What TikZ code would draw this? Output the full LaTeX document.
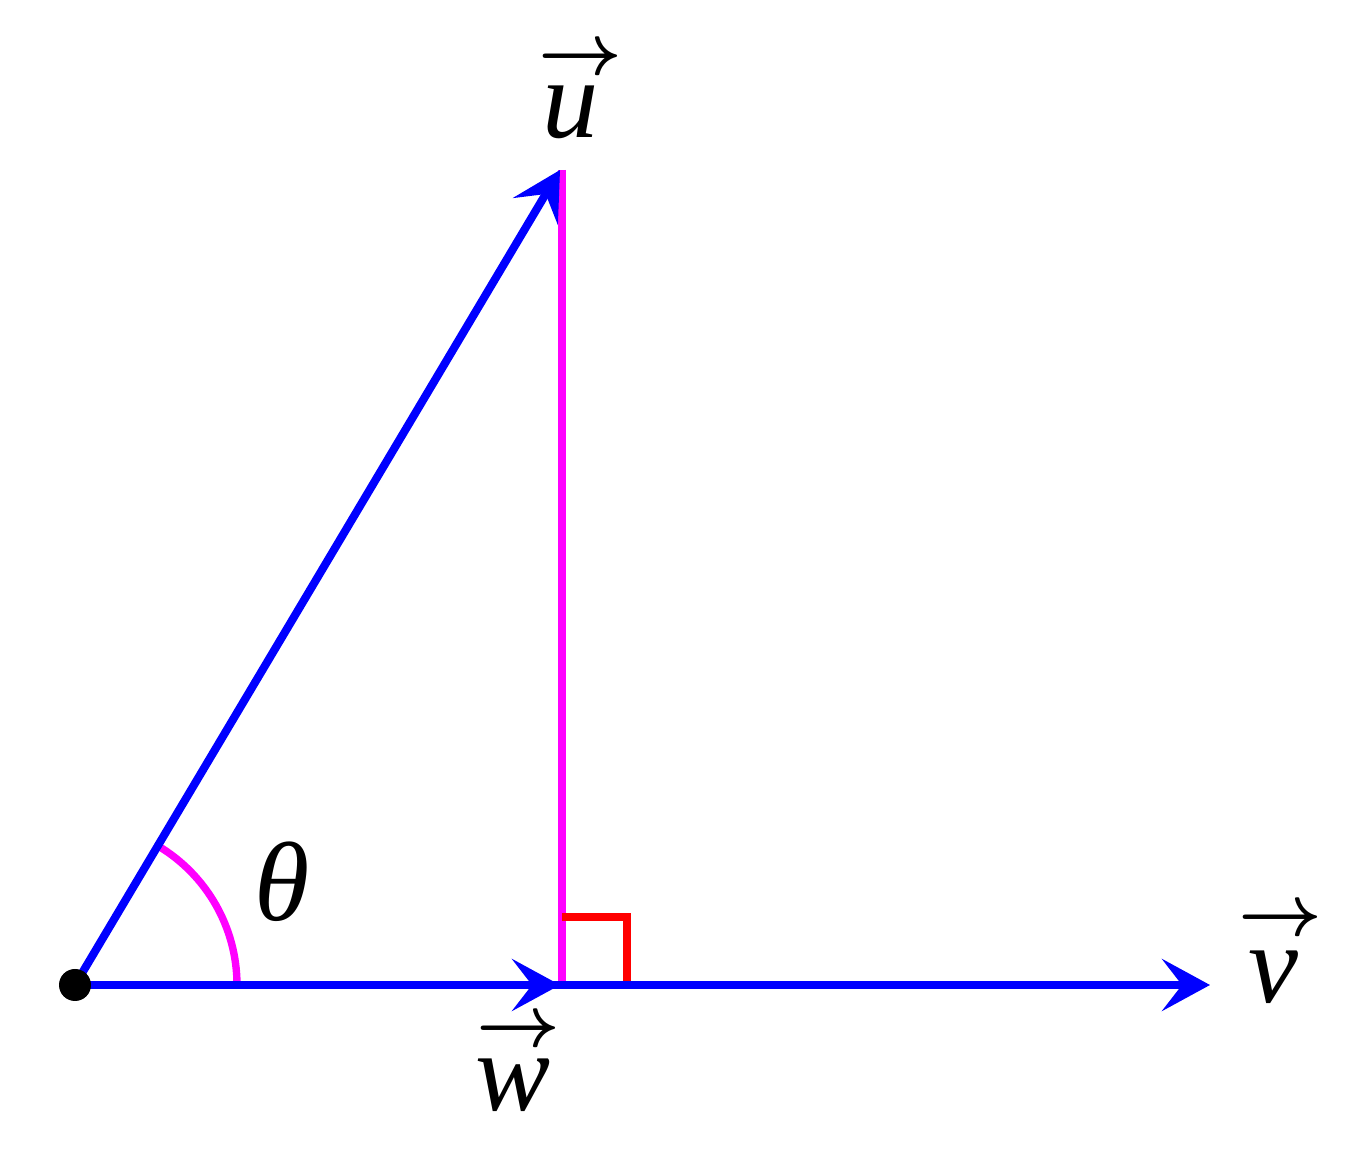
\documentclass[tikz,border=0pt]{standalone}
\usepackage{amsmath}
\usepackage{fontspec}
\setmainfont{Liberation Serif}
\usepackage{tikz}
\usetikzlibrary{positioning}
\usetikzlibrary{arrows.meta}

\definecolor{puremagenta}{RGB}{255,0,255}
\definecolor{pureblue}{RGB}{0,0,255}

\begin{document}
\begin{tikzpicture}[
  vec/.style={pureblue, line width=2.3pt, -{Stealth[length=0.48cm, width=0.52cm, inset=0.2cm]}},
  big/.style={font=\fontsize{32}{38}\selectfont\itshape, inner sep=0pt},
  arr/.style={font=\fontsize{20}{20}\selectfont, inner sep=0pt}
]

\useasboundingbox (0,0) rectangle (13.68,11.49);

\coordinate (O) at (0.75,1.64);
\coordinate (U) at (5.60,9.79);
\coordinate (W) at (5.60,1.64);
\coordinate (V) at (12.10,1.64);
\coordinate (P) at (5.62,9.79);
\coordinate (F) at (5.62,1.64);

% projection line and right angle
\draw[puremagenta, line width=2.1pt] (P) -- (F);
\draw[red, line width=2.1pt] (5.62,2.32) -- (6.27,2.32) -- (6.27,1.64);

% angle
\draw[puremagenta, line width=2.1pt] (O) ++(1.62,0) arc[start angle=0, end angle=59.25, radius=1.62];

% vectors
\draw[vec] (O) -- (V);
\draw[vec] (O) -- (W);
\draw[vec] (O) -- (U);

\fill[black] (O) circle (0.16);

% labels
\node[big] (ulabel) at (5.71,10.37) {u};
\node[arr] (uarrow) at (5.80,10.89) {$\boldsymbol{\rightarrow}$};
\node[big] (wlabel) at (5.13,0.64) {w};
\node[arr] (warrow) at (5.18,1.17) {$\boldsymbol{\rightarrow}$};
\node[big] (vlabel) at (12.73,1.72) {v};
\node[arr] (varrow) at (12.80,2.28) {$\boldsymbol{\rightarrow}$};
\node[big] (theta) at (2.82,2.67) {θ};

\end{tikzpicture}
\end{document}
